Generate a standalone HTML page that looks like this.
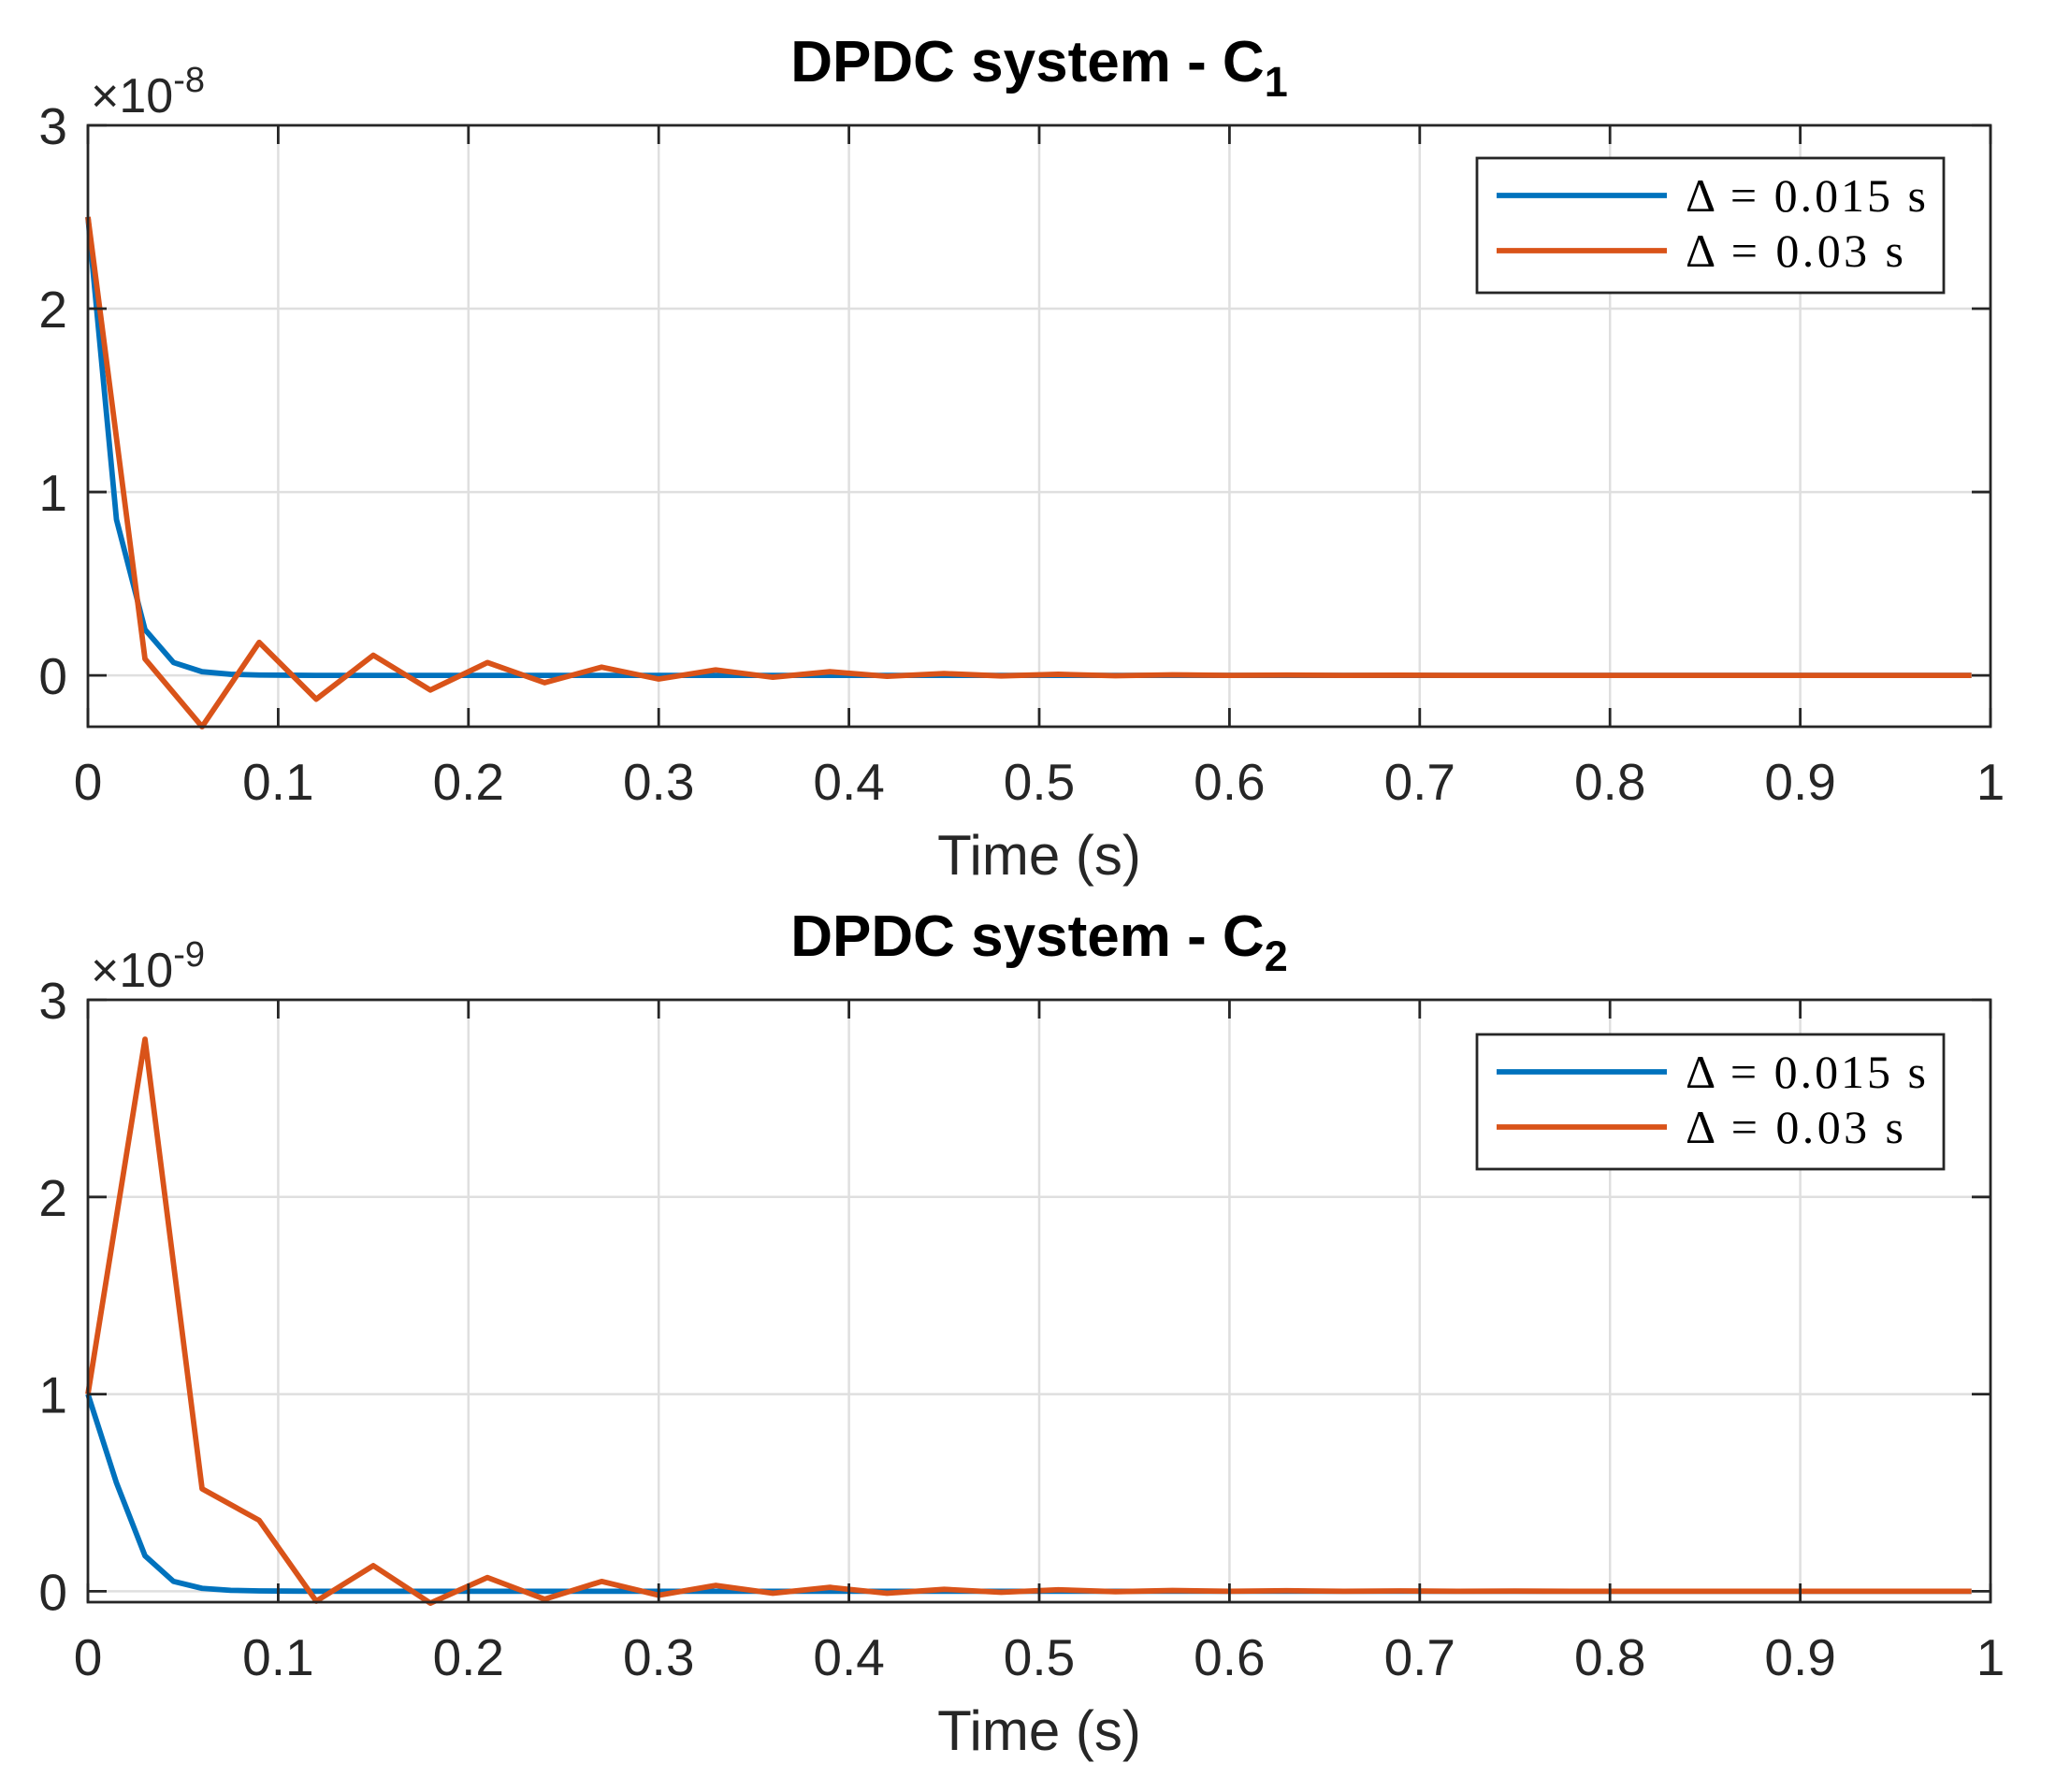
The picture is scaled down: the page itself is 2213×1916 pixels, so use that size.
<!DOCTYPE html>
<html><head><meta charset="utf-8"><style>
html,body{margin:0;padding:0;background:#fff;}
svg{display:block;}
text{font-family:"Liberation Sans",sans-serif;fill:#262626;}
</style></head><body>
<svg id="fig" width="2213" height="1916" viewBox="0 0 2213 1916" xmlns="http://www.w3.org/2000/svg"></svg>
<script>
// Data (time in s)
const tBlue = [0,0.015,0.03,0.045,0.06,0.075,0.09,0.105,0.12,0.135,0.15,0.165,0.18,0.195,0.21,0.225,0.24,0.255,0.27,0.285,0.3,0.315,0.33,0.345,0.36,0.375,0.39,0.405,0.42,0.435,0.45,0.465,0.48,0.495,0.51,0.525,0.54,0.555,0.57,0.585,0.6,0.615,0.63,0.645,0.66,0.675,0.69,0.705,0.72,0.735,0.75,0.765,0.78,0.795,0.81,0.825,0.84,0.855,0.87,0.885,0.9,0.915,0.93,0.945,0.96,0.975,0.99];
const tOrange = [0,0.03,0.06,0.09,0.12,0.15,0.18,0.21,0.24,0.27,0.3,0.33,0.36,0.39,0.42,0.45,0.48,0.51,0.54,0.57,0.6,0.63,0.66,0.69,0.72,0.75,0.78,0.81,0.84,0.87,0.9,0.93,0.96,0.99];
// C1 (x1e-8)
const c1Blue = [2.5,0.85,0.25,0.07,0.02,0.006,0.002,0.001,0,0,0,0,0,0,0,0,0,0,0,0,0,0,0,0,0,0,0,0,0,0,0,0,0,0,0,0,0,0,0,0,0,0,0,0,0,0,0,0,0,0,0,0,0,0,0,0,0,0,0,0,0,0,0,0,0,0,0];
const c1Orange = [2.5,0.09,-0.28,0.18,-0.13,0.11,-0.08,0.07,-0.04,0.045,-0.02,0.03,-0.01,0.02,-0.005,0.01,-0.003,0.006,-0.002,0.003,0,0.002,0,0.001,0,0,0,0,0,0,0,0,0,0];
// C2 (x1e-9)
const c2Blue = [1.0,0.55,0.18,0.05,0.015,0.005,0.002,0.001,0,0,0,0,0,0,0,0,0,0,0,0,0,0,0,0,0,0,0,0,0,0,0,0,0,0,0,0,0,0,0,0,0,0,0,0,0,0,0,0,0,0,0,0,0,0,0,0,0,0,0,0,0,0,0,0,0,0,0];
const c2Orange = [1.0,2.8,0.52,0.36,-0.05,0.13,-0.06,0.07,-0.04,0.05,-0.02,0.03,-0.01,0.02,-0.01,0.01,-0.005,0.008,-0.002,0.004,0,0.003,0,0.002,0,0.001,0,0,0,0,0,0,0,0];
const xTicks = [0,0.1,0.2,0.3,0.4,0.5,0.6,0.7,0.8,0.9,1];
const xTickLabels = ["0","0.1","0.2","0.3","0.4","0.5","0.6","0.7","0.8","0.9","1"];
const yTicks = [0,1,2,3];
const yTickLabels = ["0","1","2","3"];

const NS="http://www.w3.org/2000/svg";
const svg=document.getElementById('fig');
function mk(tag,attrs,parent){const e=document.createElementNS(NS,tag);for(const k in attrs)e.setAttribute(k,attrs[k]);(parent||svg).appendChild(e);return e;}

function panel(cfg){
  const g=mk('g',{});
  
  
  const L=94,R=2128,T=cfg.top,B=cfg.bottom;
  const xS=v=>L+(R-L)*v;
  const yS=v=>T+(B-T)*(cfg.ymax-v)/(cfg.ymax-cfg.ymin);
  xTicks.forEach(v=>{if(v>0&&v<1){const l=mk('line',{x1:xS(v),x2:xS(v),y1:T,y2:B,stroke:'#dfdfdf','stroke-width':2.5},g);}});
  yTicks.forEach(v=>{if(v<cfg.ymax){const l=mk('line',{x1:L,x2:R,y1:yS(v),y2:yS(v),stroke:'#dfdfdf','stroke-width':2.5},g);}});
  const mkLine=(ts,vs,col,nm)=>{const p=mk('polyline',{points:ts.map((t,i)=>xS(t)+','+yS(vs[i])).join(' '),fill:'none',stroke:col,'stroke-width':5.8,'stroke-linejoin':'round'},g);};
  mkLine(tBlue,cfg.blue,'#0072BD','series-delta-0015');
  mkLine(tOrange,cfg.orange,'#D95319','series-delta-003');
  const bx=mk('rect',{x:L,y:T,width:R-L,height:B-T,fill:'none',stroke:'#262626','stroke-width':2.8},g);
  
  xTicks.forEach((v,i)=>{
    mk('line',{x1:xS(v),x2:xS(v),y1:B,y2:B-20,stroke:'#262626','stroke-width':2.8},g);
    mk('line',{x1:xS(v),x2:xS(v),y1:T,y2:T+20,stroke:'#262626','stroke-width':2.8},g);
    const t=mk('text',{x:xS(v),y:B+78,'font-size':55,'text-anchor':'middle'},g);t.textContent=xTickLabels[i];
    
  });
  yTicks.forEach((v,i)=>{
    mk('line',{x1:L,x2:L+20,y1:yS(v),y2:yS(v),stroke:'#262626','stroke-width':2.8},g);
    mk('line',{x1:R,x2:R-20,y1:yS(v),y2:yS(v),stroke:'#262626','stroke-width':2.8},g);
    const t=mk('text',{x:L-22,y:yS(v)+20,'font-size':55,'text-anchor':'end'},g);t.textContent=yTickLabels[i];
    
  });
  const ex=mk('text',{x:97,y:T-14,'font-size':52},g);
  
  ex.innerHTML='×10<tspan dy="-22" font-size="38">'+cfg.exp+'</tspan>';
  const ti=mk('text',{x:1111,y:cfg.titleY,'font-size':62,'font-weight':'bold','text-anchor':'middle',style:'fill:#000'},g);
  
  ti.innerHTML='DPDC system - C<tspan dy="16" font-size="45">'+cfg.sub+'</tspan>';
  const xl=mk('text',{x:1111,y:B+158,'font-size':60,'text-anchor':'middle'},g);xl.textContent='Time (s)';
  
  const lg=mk('g',{},g);
  const ly=T+cfg.legOff;
  mk('rect',{x:1579,y:ly,width:499,height:144,fill:'#fff',stroke:'#262626','stroke-width':2.8},lg);
  [['#0072BD','Δ = 0.015 s',257],['#D95319','Δ = 0.03 s',233]].forEach((e,i)=>{
    const yy=ly+40+i*59;
    const en=mk('g',{},lg);
    mk('line',{x1:1600,x2:1782,y1:yy,y2:yy,stroke:e[0],'stroke-width':5.8},en);
    const t=mk('text',{x:1802,y:yy+17,'font-size':50,textLength:e[2],lengthAdjust:'spacing',style:'font-family:"Liberation Serif",serif;fill:#000'},en);t.textContent=e[1];
  });
}
panel({name:'plot-c1',top:134,bottom:777,ymin:-0.28,ymax:3,exp:'-8',sub:'1',blue:c1Blue,orange:c1Orange,legOff:35,titleY:87});
panel({name:'plot-c2',top:1069,bottom:1713,ymin:-0.055,ymax:3,exp:'-9',sub:'2',blue:c2Blue,orange:c2Orange,legOff:37,titleY:1022});
</script>
</body></html>
